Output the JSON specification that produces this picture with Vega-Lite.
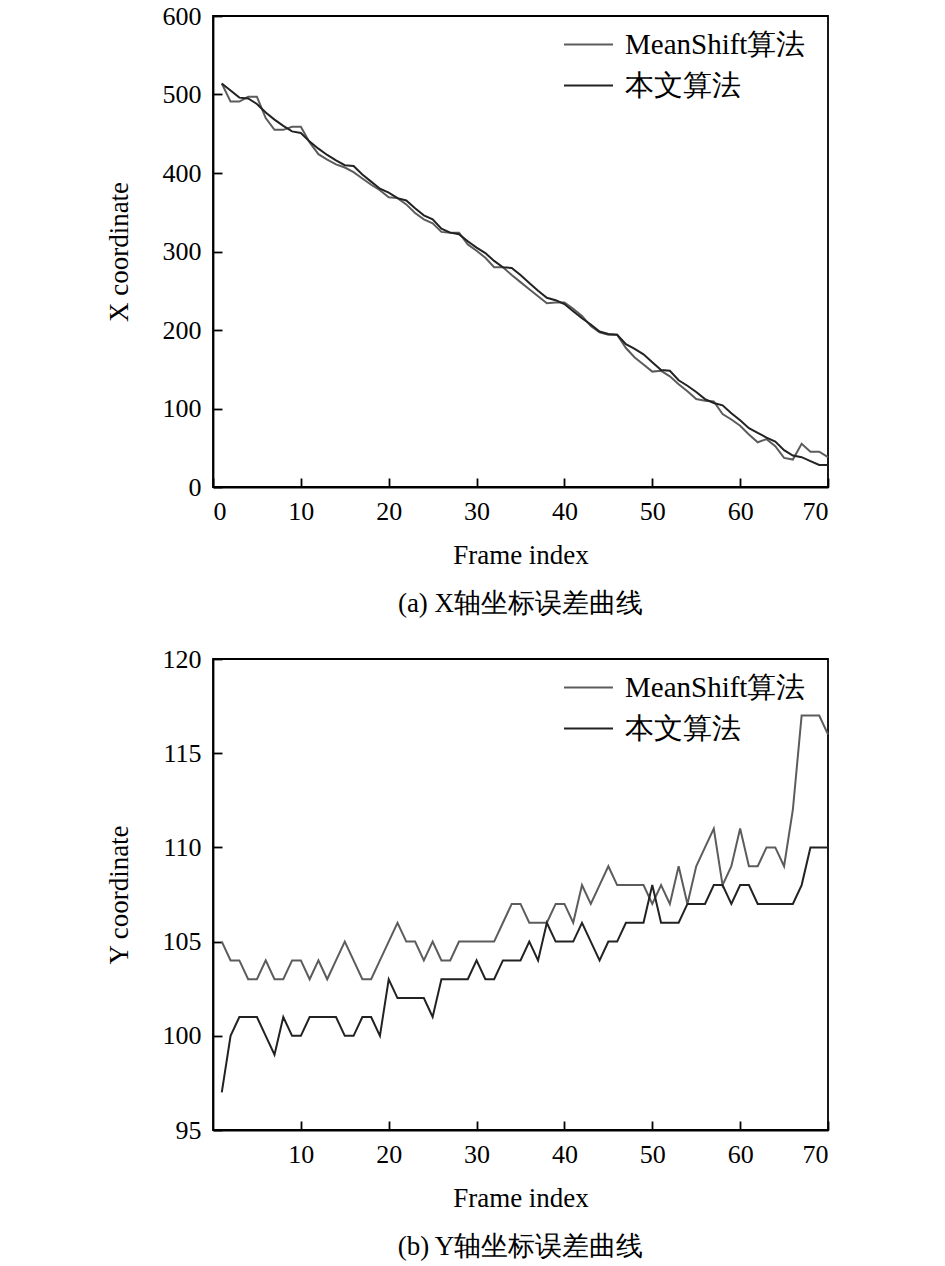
{
  "$schema": "https://vega.github.io/schema/vega-lite/v6.json",
  "padding": {"left": 104, "top": 2, "right": 5, "bottom": 5},
  "spacing": 27,
  "resolve": {"legend": {"color": "independent"}},
  "config": {
    "font": "Liberation Serif",
    "view": {"stroke": "#000000", "strokeWidth": 1.8},
    "axis": {
      "grid": false,
      "domainColor": "#000000",
      "domainWidth": 1.8,
      "tickColor": "#000000",
      "tickWidth": 1.8,
      "tickSize": -9,
      "labelFont": "Liberation Serif",
      "labelFontSize": 26,
      "labelColor": "#000000",
      "titleFont": "Liberation Serif",
      "titleFontSize": 27,
      "titleFontWeight": "normal",
      "titleColor": "#000000"
    },
    "legend": {
      "labelFont": "Liberation Serif",
      "labelFontSize": 29,
      "labelColor": "#000000",
      "labelLimit": 0,
      "symbolType": "stroke",
      "symbolSize": 2400,
      "symbolStrokeWidth": 2,
      "rowPadding": -18,
      "labelOffset": 11,
      "padding": 0
    },
    "title": {"font": "Liberation Serif", "fontSize": 27, "fontWeight": "normal", "color": "#000000"}
  },
  "datasets": {
    "xdata": [
      {"frame":1,"method":"MeanShift算法","value":514},{"frame":1,"method":"本文算法","value":514},
      {"frame":2,"method":"MeanShift算法","value":491},{"frame":2,"method":"本文算法","value":505},
      {"frame":3,"method":"MeanShift算法","value":491},{"frame":3,"method":"本文算法","value":496},
      {"frame":4,"method":"MeanShift算法","value":497},{"frame":4,"method":"本文算法","value":495},
      {"frame":5,"method":"MeanShift算法","value":497},{"frame":5,"method":"本文算法","value":488},
      {"frame":6,"method":"MeanShift算法","value":470},{"frame":6,"method":"本文算法","value":477},
      {"frame":7,"method":"MeanShift算法","value":455},{"frame":7,"method":"本文算法","value":468},
      {"frame":8,"method":"MeanShift算法","value":455},{"frame":8,"method":"本文算法","value":460},
      {"frame":9,"method":"MeanShift算法","value":459},{"frame":9,"method":"本文算法","value":453},
      {"frame":10,"method":"MeanShift算法","value":459},{"frame":10,"method":"本文算法","value":451},
      {"frame":11,"method":"MeanShift算法","value":439},{"frame":11,"method":"本文算法","value":440},
      {"frame":12,"method":"MeanShift算法","value":424},{"frame":12,"method":"本文算法","value":431},
      {"frame":13,"method":"MeanShift算法","value":417},{"frame":13,"method":"本文算法","value":423},
      {"frame":14,"method":"MeanShift算法","value":411},{"frame":14,"method":"本文算法","value":416},
      {"frame":15,"method":"MeanShift算法","value":407},{"frame":15,"method":"本文算法","value":410},
      {"frame":16,"method":"MeanShift算法","value":401},{"frame":16,"method":"本文算法","value":409},
      {"frame":17,"method":"MeanShift算法","value":393},{"frame":17,"method":"本文算法","value":398},
      {"frame":18,"method":"MeanShift算法","value":385},{"frame":18,"method":"本文算法","value":389},
      {"frame":19,"method":"MeanShift算法","value":378},{"frame":19,"method":"本文算法","value":380},
      {"frame":20,"method":"MeanShift算法","value":369},{"frame":20,"method":"本文算法","value":375},
      {"frame":21,"method":"MeanShift算法","value":368},{"frame":21,"method":"本文算法","value":368},
      {"frame":22,"method":"MeanShift算法","value":360},{"frame":22,"method":"本文算法","value":365},
      {"frame":23,"method":"MeanShift算法","value":349},{"frame":23,"method":"本文算法","value":355},
      {"frame":24,"method":"MeanShift算法","value":341},{"frame":24,"method":"本文算法","value":346},
      {"frame":25,"method":"MeanShift算法","value":336},{"frame":25,"method":"本文算法","value":341},
      {"frame":26,"method":"MeanShift算法","value":325},{"frame":26,"method":"本文算法","value":329},
      {"frame":27,"method":"MeanShift算法","value":324},{"frame":27,"method":"本文算法","value":324},
      {"frame":28,"method":"MeanShift算法","value":324},{"frame":28,"method":"本文算法","value":322},
      {"frame":29,"method":"MeanShift算法","value":309},{"frame":29,"method":"本文算法","value":313},
      {"frame":30,"method":"MeanShift算法","value":301},{"frame":30,"method":"本文算法","value":305},
      {"frame":31,"method":"MeanShift算法","value":292},{"frame":31,"method":"本文算法","value":298},
      {"frame":32,"method":"MeanShift算法","value":280},{"frame":32,"method":"本文算法","value":288},
      {"frame":33,"method":"MeanShift算法","value":280},{"frame":33,"method":"本文算法","value":280},
      {"frame":34,"method":"MeanShift算法","value":270},{"frame":34,"method":"本文算法","value":279},
      {"frame":35,"method":"MeanShift算法","value":261},{"frame":35,"method":"本文算法","value":270},
      {"frame":36,"method":"MeanShift算法","value":252},{"frame":36,"method":"本文算法","value":260},
      {"frame":37,"method":"MeanShift算法","value":243},{"frame":37,"method":"本文算法","value":250},
      {"frame":38,"method":"MeanShift算法","value":234},{"frame":38,"method":"本文算法","value":241},
      {"frame":39,"method":"MeanShift算法","value":235},{"frame":39,"method":"本文算法","value":238},
      {"frame":40,"method":"MeanShift算法","value":235},{"frame":40,"method":"本文算法","value":233},
      {"frame":41,"method":"MeanShift算法","value":227},{"frame":41,"method":"本文算法","value":224},
      {"frame":42,"method":"MeanShift算法","value":218},{"frame":42,"method":"本文算法","value":215},
      {"frame":43,"method":"MeanShift算法","value":205},{"frame":43,"method":"本文算法","value":207},
      {"frame":44,"method":"MeanShift算法","value":197},{"frame":44,"method":"本文算法","value":198},
      {"frame":45,"method":"MeanShift算法","value":194},{"frame":45,"method":"本文算法","value":195},
      {"frame":46,"method":"MeanShift算法","value":194},{"frame":46,"method":"本文算法","value":194},
      {"frame":47,"method":"MeanShift算法","value":177},{"frame":47,"method":"本文算法","value":182},
      {"frame":48,"method":"MeanShift算法","value":165},{"frame":48,"method":"本文算法","value":176},
      {"frame":49,"method":"MeanShift算法","value":156},{"frame":49,"method":"本文算法","value":169},
      {"frame":50,"method":"MeanShift算法","value":147},{"frame":50,"method":"本文算法","value":159},
      {"frame":51,"method":"MeanShift算法","value":148},{"frame":51,"method":"本文算法","value":149},
      {"frame":52,"method":"MeanShift算法","value":141},{"frame":52,"method":"本文算法","value":148},
      {"frame":53,"method":"MeanShift算法","value":131},{"frame":53,"method":"本文算法","value":136},
      {"frame":54,"method":"MeanShift算法","value":122},{"frame":54,"method":"本文算法","value":129},
      {"frame":55,"method":"MeanShift算法","value":112},{"frame":55,"method":"本文算法","value":121},
      {"frame":56,"method":"MeanShift算法","value":110},{"frame":56,"method":"本文算法","value":112},
      {"frame":57,"method":"MeanShift算法","value":109},{"frame":57,"method":"本文算法","value":107},
      {"frame":58,"method":"MeanShift算法","value":93},{"frame":58,"method":"本文算法","value":104},
      {"frame":59,"method":"MeanShift算法","value":86},{"frame":59,"method":"本文算法","value":94},
      {"frame":60,"method":"MeanShift算法","value":78},{"frame":60,"method":"本文算法","value":85},
      {"frame":61,"method":"MeanShift算法","value":67},{"frame":61,"method":"本文算法","value":75},
      {"frame":62,"method":"MeanShift算法","value":57},{"frame":62,"method":"本文算法","value":69},
      {"frame":63,"method":"MeanShift算法","value":61},{"frame":63,"method":"本文算法","value":63},
      {"frame":64,"method":"MeanShift算法","value":52},{"frame":64,"method":"本文算法","value":58},
      {"frame":65,"method":"MeanShift算法","value":37},{"frame":65,"method":"本文算法","value":47},
      {"frame":66,"method":"MeanShift算法","value":35},{"frame":66,"method":"本文算法","value":40},
      {"frame":67,"method":"MeanShift算法","value":55},{"frame":67,"method":"本文算法","value":38},
      {"frame":68,"method":"MeanShift算法","value":45},{"frame":68,"method":"本文算法","value":33},
      {"frame":69,"method":"MeanShift算法","value":45},{"frame":69,"method":"本文算法","value":28},
      {"frame":70,"method":"MeanShift算法","value":38},{"frame":70,"method":"本文算法","value":28}
    ],
    "ydata": [
      {"frame":1,"method":"MeanShift算法","value":105},{"frame":1,"method":"本文算法","value":97},
      {"frame":2,"method":"MeanShift算法","value":104},{"frame":2,"method":"本文算法","value":100},
      {"frame":3,"method":"MeanShift算法","value":104},{"frame":3,"method":"本文算法","value":101},
      {"frame":4,"method":"MeanShift算法","value":103},{"frame":4,"method":"本文算法","value":101},
      {"frame":5,"method":"MeanShift算法","value":103},{"frame":5,"method":"本文算法","value":101},
      {"frame":6,"method":"MeanShift算法","value":104},{"frame":6,"method":"本文算法","value":100},
      {"frame":7,"method":"MeanShift算法","value":103},{"frame":7,"method":"本文算法","value":99},
      {"frame":8,"method":"MeanShift算法","value":103},{"frame":8,"method":"本文算法","value":101},
      {"frame":9,"method":"MeanShift算法","value":104},{"frame":9,"method":"本文算法","value":100},
      {"frame":10,"method":"MeanShift算法","value":104},{"frame":10,"method":"本文算法","value":100},
      {"frame":11,"method":"MeanShift算法","value":103},{"frame":11,"method":"本文算法","value":101},
      {"frame":12,"method":"MeanShift算法","value":104},{"frame":12,"method":"本文算法","value":101},
      {"frame":13,"method":"MeanShift算法","value":103},{"frame":13,"method":"本文算法","value":101},
      {"frame":14,"method":"MeanShift算法","value":104},{"frame":14,"method":"本文算法","value":101},
      {"frame":15,"method":"MeanShift算法","value":105},{"frame":15,"method":"本文算法","value":100},
      {"frame":16,"method":"MeanShift算法","value":104},{"frame":16,"method":"本文算法","value":100},
      {"frame":17,"method":"MeanShift算法","value":103},{"frame":17,"method":"本文算法","value":101},
      {"frame":18,"method":"MeanShift算法","value":103},{"frame":18,"method":"本文算法","value":101},
      {"frame":19,"method":"MeanShift算法","value":104},{"frame":19,"method":"本文算法","value":100},
      {"frame":20,"method":"MeanShift算法","value":105},{"frame":20,"method":"本文算法","value":103},
      {"frame":21,"method":"MeanShift算法","value":106},{"frame":21,"method":"本文算法","value":102},
      {"frame":22,"method":"MeanShift算法","value":105},{"frame":22,"method":"本文算法","value":102},
      {"frame":23,"method":"MeanShift算法","value":105},{"frame":23,"method":"本文算法","value":102},
      {"frame":24,"method":"MeanShift算法","value":104},{"frame":24,"method":"本文算法","value":102},
      {"frame":25,"method":"MeanShift算法","value":105},{"frame":25,"method":"本文算法","value":101},
      {"frame":26,"method":"MeanShift算法","value":104},{"frame":26,"method":"本文算法","value":103},
      {"frame":27,"method":"MeanShift算法","value":104},{"frame":27,"method":"本文算法","value":103},
      {"frame":28,"method":"MeanShift算法","value":105},{"frame":28,"method":"本文算法","value":103},
      {"frame":29,"method":"MeanShift算法","value":105},{"frame":29,"method":"本文算法","value":103},
      {"frame":30,"method":"MeanShift算法","value":105},{"frame":30,"method":"本文算法","value":104},
      {"frame":31,"method":"MeanShift算法","value":105},{"frame":31,"method":"本文算法","value":103},
      {"frame":32,"method":"MeanShift算法","value":105},{"frame":32,"method":"本文算法","value":103},
      {"frame":33,"method":"MeanShift算法","value":106},{"frame":33,"method":"本文算法","value":104},
      {"frame":34,"method":"MeanShift算法","value":107},{"frame":34,"method":"本文算法","value":104},
      {"frame":35,"method":"MeanShift算法","value":107},{"frame":35,"method":"本文算法","value":104},
      {"frame":36,"method":"MeanShift算法","value":106},{"frame":36,"method":"本文算法","value":105},
      {"frame":37,"method":"MeanShift算法","value":106},{"frame":37,"method":"本文算法","value":104},
      {"frame":38,"method":"MeanShift算法","value":106},{"frame":38,"method":"本文算法","value":106},
      {"frame":39,"method":"MeanShift算法","value":107},{"frame":39,"method":"本文算法","value":105},
      {"frame":40,"method":"MeanShift算法","value":107},{"frame":40,"method":"本文算法","value":105},
      {"frame":41,"method":"MeanShift算法","value":106},{"frame":41,"method":"本文算法","value":105},
      {"frame":42,"method":"MeanShift算法","value":108},{"frame":42,"method":"本文算法","value":106},
      {"frame":43,"method":"MeanShift算法","value":107},{"frame":43,"method":"本文算法","value":105},
      {"frame":44,"method":"MeanShift算法","value":108},{"frame":44,"method":"本文算法","value":104},
      {"frame":45,"method":"MeanShift算法","value":109},{"frame":45,"method":"本文算法","value":105},
      {"frame":46,"method":"MeanShift算法","value":108},{"frame":46,"method":"本文算法","value":105},
      {"frame":47,"method":"MeanShift算法","value":108},{"frame":47,"method":"本文算法","value":106},
      {"frame":48,"method":"MeanShift算法","value":108},{"frame":48,"method":"本文算法","value":106},
      {"frame":49,"method":"MeanShift算法","value":108},{"frame":49,"method":"本文算法","value":106},
      {"frame":50,"method":"MeanShift算法","value":107},{"frame":50,"method":"本文算法","value":108},
      {"frame":51,"method":"MeanShift算法","value":108},{"frame":51,"method":"本文算法","value":106},
      {"frame":52,"method":"MeanShift算法","value":107},{"frame":52,"method":"本文算法","value":106},
      {"frame":53,"method":"MeanShift算法","value":109},{"frame":53,"method":"本文算法","value":106},
      {"frame":54,"method":"MeanShift算法","value":107},{"frame":54,"method":"本文算法","value":107},
      {"frame":55,"method":"MeanShift算法","value":109},{"frame":55,"method":"本文算法","value":107},
      {"frame":56,"method":"MeanShift算法","value":110},{"frame":56,"method":"本文算法","value":107},
      {"frame":57,"method":"MeanShift算法","value":111},{"frame":57,"method":"本文算法","value":108},
      {"frame":58,"method":"MeanShift算法","value":108},{"frame":58,"method":"本文算法","value":108},
      {"frame":59,"method":"MeanShift算法","value":109},{"frame":59,"method":"本文算法","value":107},
      {"frame":60,"method":"MeanShift算法","value":111},{"frame":60,"method":"本文算法","value":108},
      {"frame":61,"method":"MeanShift算法","value":109},{"frame":61,"method":"本文算法","value":108},
      {"frame":62,"method":"MeanShift算法","value":109},{"frame":62,"method":"本文算法","value":107},
      {"frame":63,"method":"MeanShift算法","value":110},{"frame":63,"method":"本文算法","value":107},
      {"frame":64,"method":"MeanShift算法","value":110},{"frame":64,"method":"本文算法","value":107},
      {"frame":65,"method":"MeanShift算法","value":109},{"frame":65,"method":"本文算法","value":107},
      {"frame":66,"method":"MeanShift算法","value":112},{"frame":66,"method":"本文算法","value":107},
      {"frame":67,"method":"MeanShift算法","value":117},{"frame":67,"method":"本文算法","value":108},
      {"frame":68,"method":"MeanShift算法","value":117},{"frame":68,"method":"本文算法","value":110},
      {"frame":69,"method":"MeanShift算法","value":117},{"frame":69,"method":"本文算法","value":110},
      {"frame":70,"method":"MeanShift算法","value":116},{"frame":70,"method":"本文算法","value":110}
    ]
  },
  "vconcat": [
    {
      "width": 615,
      "height": 471,
      "data": {"name": "xdata"},
      "title": {"text": "(a) X轴坐标误差曲线", "orient": "bottom", "offset": 23},
      "mark": {"type": "line", "strokeWidth": 2},
      "encoding": {
        "x": {"field": "frame", "type": "quantitative", "scale": {"domain": [0, 70], "nice": false, "zero": false},
              "axis": {"values": [0, 10, 20, 30, 40, 50, 60, 70], "title": "Frame index", "labelPadding": 20, "titlePadding": 18}},
        "y": {"field": "value", "type": "quantitative", "scale": {"domain": [0, 600], "nice": false},
              "axis": {"values": [0, 100, 200, 300, 400, 500, 600], "title": "X coordinate", "labelPadding": 21, "titlePadding": 29}},
        "color": {"field": "method", "type": "nominal",
                  "scale": {"domain": ["MeanShift算法", "本文算法"], "range": ["#5c5c5c", "#222222"]},
                  "legend": {"title": null, "orient": "none", "legendX": 350, "legendY": 3}}
      }
    },
    {
      "width": 615,
      "height": 471,
      "data": {"name": "ydata"},
      "title": {"text": "(b) Y轴坐标误差曲线", "orient": "bottom", "offset": 23},
      "mark": {"type": "line", "strokeWidth": 2},
      "encoding": {
        "x": {"field": "frame", "type": "quantitative", "scale": {"domain": [0, 70], "nice": false, "zero": false},
              "axis": {"values": [10, 20, 30, 40, 50, 60, 70], "title": "Frame index", "labelPadding": 20, "titlePadding": 18}},
        "y": {"field": "value", "type": "quantitative", "scale": {"domain": [95, 120], "nice": false, "zero": false},
              "axis": {"values": [95, 100, 105, 110, 115, 120], "title": "Y coordinate", "labelPadding": 21, "titlePadding": 29}},
        "color": {"field": "method", "type": "nominal",
                  "scale": {"domain": ["MeanShift算法", "本文算法"], "range": ["#5c5c5c", "#222222"]},
                  "legend": {"title": null, "orient": "none", "legendX": 350, "legendY": 3}}
      }
    }
  ]
}
